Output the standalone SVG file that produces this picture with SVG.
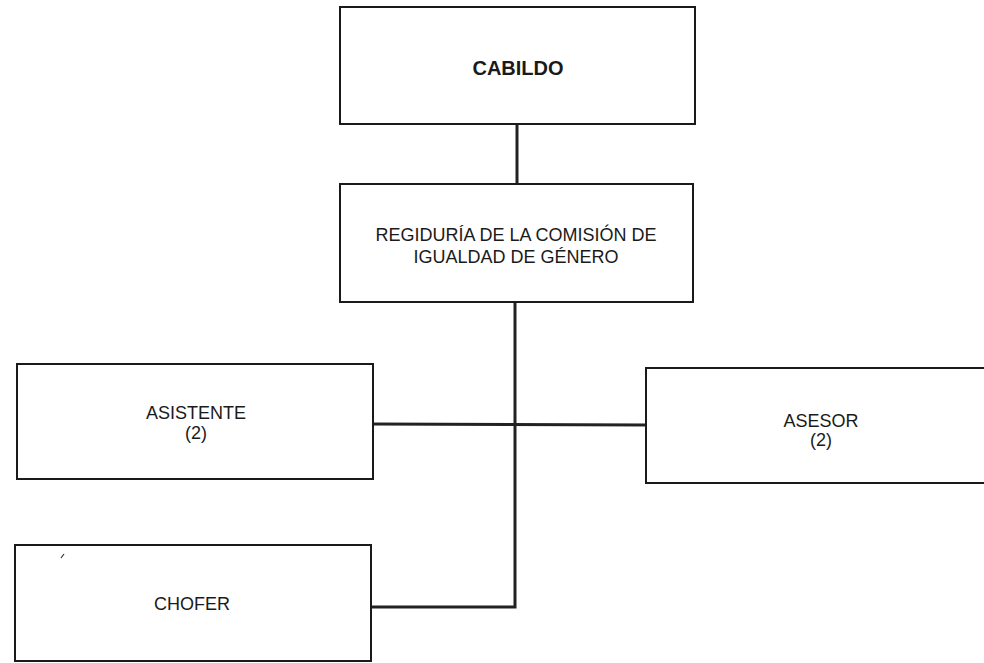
<svg xmlns="http://www.w3.org/2000/svg" width="984" height="663" viewBox="0 0 984 663">
<style>
.box{fill:#fff;stroke:#1a1a1a;stroke-width:2}
.lbl{font-family:"Liberation Sans",Arial,sans-serif;font-size:18px;fill:#1a1a1a;text-anchor:middle}
.bold{font-weight:bold;font-size:20px}
.conn{fill:none;stroke:#222;stroke-width:3}
</style>
<rect width="984" height="663" fill="#fff"/>
<g id="connectors">
<line class="conn" x1="517" y1="124" x2="517" y2="184"/>
<polyline class="conn" points="515,302 515,607 371,607"/>
<line class="conn" x1="373" y1="424" x2="646" y2="425"/>
</g>
<g id="cabildo">
<rect class="box" x="340" y="7" width="355" height="117"/>
<text class="lbl bold" x="518" y="75">CABILDO</text>
</g>
<g id="regiduria">
<rect class="box" x="340" y="184" width="353" height="118"/>
<text class="lbl" x="516" y="241">REGIDURÍA DE LA COMISIÓN DE</text>
<text class="lbl" x="516" y="263">IGUALDAD DE GÉNERO</text>
</g>
<g id="asistente">
<rect class="box" x="17" y="364" width="356" height="115"/>
<text class="lbl" x="196" y="419">ASISTENTE</text>
<text class="lbl" x="196" y="439">(2)</text>
</g>
<g id="asesor">
<rect class="box" x="646" y="368" width="345" height="115"/>
<text class="lbl" x="821" y="427">ASESOR</text>
<text class="lbl" x="821" y="446">(2)</text>
</g>
<g id="chofer">
<rect class="box" x="15" y="545" width="356" height="116"/>
<text class="lbl" x="192" y="610">CHOFER</text>
<line x1="61" y1="558" x2="64" y2="554" stroke="#333" stroke-width="1.2"/>
</g>
</svg>
